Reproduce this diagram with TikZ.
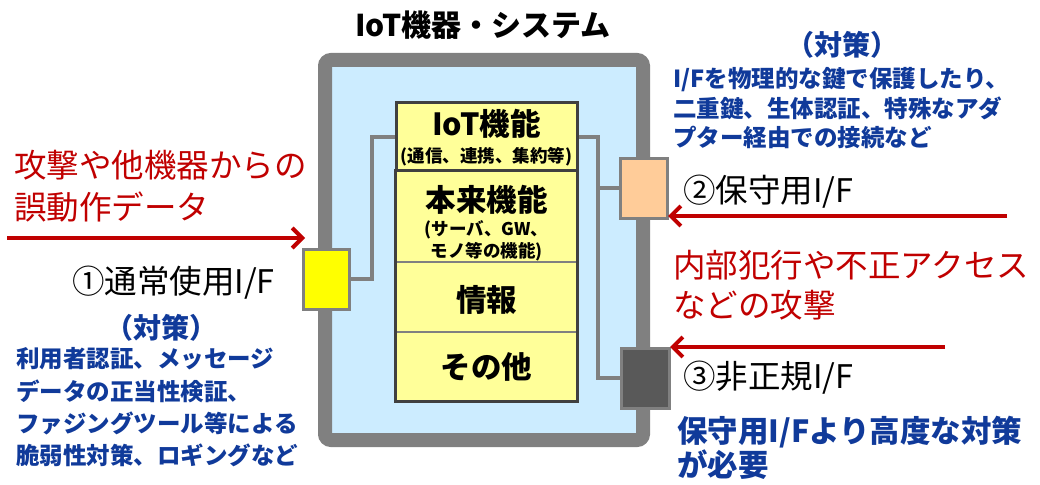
\documentclass[tikz,border=0pt]{standalone}
\usepackage{fontspec}
\setmainfont{Noto Sans CJK JP}
\usetikzlibrary{arrows.meta}
\definecolor{framegray}{HTML}{808080}
\definecolor{innerblue}{HTML}{CCECFF}
\definecolor{lyel}{HTML}{FFFF99}
\definecolor{ifyel}{HTML}{FFFF00}
\definecolor{peach}{HTML}{FFCC99}
\definecolor{darkif}{HTML}{595959}
\definecolor{stackline}{HTML}{404040}
\definecolor{attack}{HTML}{C00000}
\definecolor{measure}{HTML}{103A9A}
\tikzset{
  devframe/.style={draw=framegray, fill=innerblue, line width=14pt, rounded corners=6pt, inner sep=0pt},
  layer/.style={draw=framegray, fill=lyel, line width=1.5pt, minimum width=181pt, inner sep=0pt},
  ifbox/.style={draw=framegray, line width=3pt, inner sep=0pt},
  wire/.style={draw=framegray, line width=3.5pt},
  atk/.style={draw=attack, line width=4pt, -{Straight Barb[length=10pt,width=20pt]}},
  txt/.style={inner sep=0pt, anchor=west},
  redt/.style={txt, text=attack, font=\fontsize{32.5pt}{38pt}\selectfont},
  bluet/.style={txt, text=measure, font=\fontsize{23.5pt}{28pt}\selectfont\bfseries},
  bluebig/.style={txt, text=measure, font=\fontsize{30.5pt}{36pt}\selectfont\bfseries},
  bluehead/.style={inner sep=0pt, text=measure, font=\fontsize{28pt}{32pt}\selectfont\bfseries},
  iflabel/.style={txt, font=\fontsize{32.5pt}{38pt}\selectfont},
  stackbig/.style={inner sep=0pt, font=\fontsize{30.5pt}{36pt}\selectfont\bfseries},
  stacksmall/.style={inner sep=0pt, font=\fontsize{17.5pt}{21pt}\selectfont\bfseries},
}
\begin{document}
\begin{tikzpicture}[x=1pt,y=-1pt]
\useasboundingbox (0,0) rectangle (1040,484);
% device frame
\node[devframe, minimum width=318pt, minimum height=380pt] (dev) at (484,250) {};
\node[inner sep=0pt, font=\fontsize{30pt}{36pt}\selectfont\bfseries] (title) at (483,25) {IoT機器・システム};
% junctions
\coordinate (j1) at (372,137);
\coordinate (j2) at (598,137);
% interface boxes (positions)
\node[ifbox, fill=ifyel, minimum width=46pt, minimum height=60pt] (if1) at (326,279) {};
\node[ifbox, fill=peach, minimum width=47pt, minimum height=60pt] (if2) at (643.5,188) {};
\node[ifbox, fill=darkif, minimum width=48pt, minimum height=60pt] (if3) at (645,378) {};
% stack layers
\node[layer, draw=stackline, line width=3pt, minimum height=68pt] (iot) at (486.5,137) {};
\node[layer, minimum height=91pt] (honrai) at (486.5,216.5) {};
\node[layer, minimum height=70pt] (info) at (486.5,297) {};
\node[layer, minimum height=69pt] (other) at (486.5,366.5) {};
\draw[draw=stackline, line width=3pt] (honrai.north west) rectangle (other.south east);
% wires
\draw[wire] (if1.east) -| (j1) -- (iot.west);
\draw[wire] (iot.east) -- (j2) |- (if2.west);
\draw[wire] (j2 |- if2.west) |- (if3.west);
% redraw boxes above wires
\node[ifbox, fill=ifyel, minimum width=46pt, minimum height=60pt] (if1b) at (if1) {};
\node[ifbox, fill=peach, minimum width=47pt, minimum height=60pt] (if2b) at (if2) {};
\node[ifbox, fill=darkif, minimum width=48pt, minimum height=60pt] (if3b) at (if3) {};
% stack texts
\node[stackbig] (t1) at (486.5,124) {IoT機能};
\node[stacksmall] (t1s) at (486.5,157) {(通信、連携、集約等)};
\node[stackbig] (t2) at (486.5,200) {本来機能};
\node[stacksmall] (t2s) at (486.5,230) {(サーバ、GW、};
\node[stacksmall] (t2t) at (486.5,252) {モノ等の機能)};
\node[stackbig] (t3) at (486.5,300) {情報};
\node[stackbig] (t4) at (486.5,367) {その他};
% arrows
\coordinate (a1s) at (7,238);
\coordinate (a1e) at (305,238);
\coordinate (a2s) at (1007,216);
\coordinate (a2e) at (668,216);
\coordinate (a3s) at (945,347);
\coordinate (a3e) at (670,347);
\draw[atk] (a1s) -- (a1e);
\draw[atk] (a2s) -- (a2e);
\draw[atk] (a3s) -- (a3e);
% left texts
\node[redt] (r1) at (14,165) {攻撃や他機器からの};
\node[redt] (r2) at (14,207) {誤動作データ};
\node[iflabel] (l1) at (72,283) {①通常使用I/F};
\node[bluehead] (m1) at (161,328) {（対策）};
\node[bluet] (b1) at (16,359) {利用者認証、メッセージ};
\node[bluet] (b2) at (16,391) {データの正当性検証、};
\node[bluet] (b3) at (16,423) {ファジングツール等による};
\node[bluet] (b4) at (16,455) {脆弱性対策、ロギングなど};
% right texts
\node[bluehead] (m2) at (842,45) {（対策）};
\node[bluet] (c1) at (673,80) {I/Fを物理的な鍵で保護したり、};
\node[bluet] (c2) at (673,108) {二重鍵、生体認証、特殊なアダ};
\node[bluet] (c3) at (673,137) {プター経由での接続など};
\node[iflabel] (l2) at (683,192) {②保守用I/F};
\node[redt] (r3) at (673,265) {内部犯行や不正アクセス};
\node[redt] (r4) at (673,305) {などの攻撃};
\node[iflabel] (l3) at (683,378) {③非正規I/F};
\node[bluebig] (d1) at (677,432) {保守用I/Fより高度な対策};
\node[bluebig] (d2) at (677,465) {が必要};
\end{tikzpicture}
\end{document}
